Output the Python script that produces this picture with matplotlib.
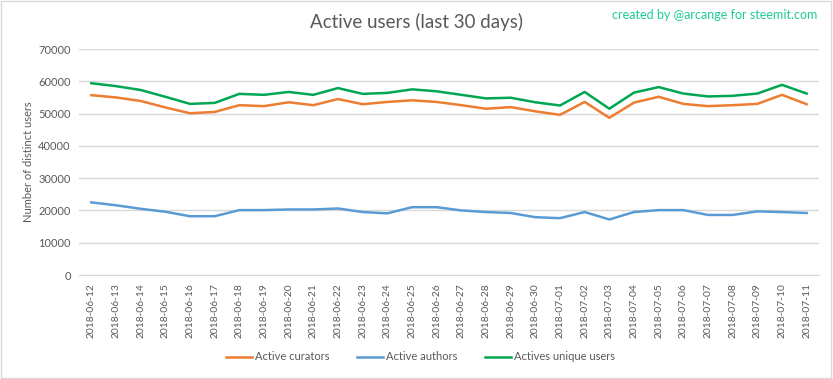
import matplotlib
matplotlib.use('Agg')
import matplotlib.pyplot as plt
from matplotlib.patches import Rectangle

# data
dates = ['2018-06-12', '2018-06-13', '2018-06-14', '2018-06-15', '2018-06-16', '2018-06-17',
         '2018-06-18', '2018-06-19', '2018-06-20', '2018-06-21', '2018-06-22', '2018-06-23',
         '2018-06-24', '2018-06-25', '2018-06-26', '2018-06-27', '2018-06-28', '2018-06-29',
         '2018-06-30', '2018-07-01', '2018-07-02', '2018-07-03', '2018-07-04', '2018-07-05',
         '2018-07-06', '2018-07-07', '2018-07-08', '2018-07-09', '2018-07-10', '2018-07-11']
curators = [55700, 55000, 53900, 51900, 50100, 50500, 52600, 52300, 53500, 52600,
            54500, 52900, 53600, 54100, 53600, 52600, 51500, 52000, 50700, 49600,
            53600, 48700, 53400, 55200, 53000, 52300, 52600, 53000, 55800, 52900]
authors = [22500, 21600, 20500, 19600, 18200, 18200, 20100, 20100, 20300, 20300,
           20600, 19500, 19100, 21000, 21000, 20000, 19500, 19200, 17900, 17600,
           19500, 17200, 19500, 20100, 20100, 18600, 18600, 19700, 19500, 19200]
unique_users = [59400, 58500, 57300, 55200, 53000, 53300, 56100, 55800, 56700, 55800,
                57900, 56100, 56400, 57500, 56900, 55800, 54700, 54900, 53500, 52500,
                56700, 51500, 56500, 58200, 56200, 55300, 55500, 56200, 58900, 56200]
yticks = [0, 10000, 20000, 30000, 40000, 50000, 60000, 70000]

plt.rcParams['font.family'] = ['Lato', 'DejaVu Sans']

fig = plt.figure(figsize=(8.33, 3.79), dpi=100)
ax = fig.add_axes([79/833, 1 - 275/379, 740/833, 226/379])

x = range(len(dates))
ax.plot(x, curators, color='#ED7D31', lw=1.8, label='Active curators')
ax.plot(x, authors, color='#5B9BD5', lw=1.8, label='Active authors')
ax.plot(x, unique_users, color='#00A650', lw=1.8, label='Actives unique users')

ax.set_xlim(-0.5, len(dates) - 0.5)
ax.set_ylim(0, 70000)
ax.set_yticks(yticks)
ax.set_yticklabels([str(v) for v in yticks], fontsize=8, color='#595959')
ax.set_xticks(list(x))
ax.set_xticklabels(dates, rotation=90, fontsize=7.4, color='#595959')
ax.tick_params(length=0, pad=6)
ax.grid(axis='y', color='#d9d9d9', lw=1)
ax.set_axisbelow(True)
for s in ['top', 'right', 'left']:
    ax.spines[s].set_visible(False)
ax.spines['bottom'].set_color('#d9d9d9')

ax.set_ylabel('Number of distinct users', fontsize=8, color='#595959', labelpad=3)

fig.text(0.5, 1 - 22/379, 'Active users (last 30 days)', ha='center', va='center',
         fontsize=13.5, color='#595959')
fig.text(817/833, 1 - 15/379, 'created by @arcange for steemit.com', ha='right', va='center',
         fontsize=9, color='#1FCB9A')

fig.legend(loc='center', bbox_to_anchor=(0.505, 1 - 357/379), ncol=3, frameon=False,
           fontsize=8, labelcolor='#595959', handlelength=2.3, columnspacing=2.5,
           handletextpad=0.3)

fig.patches.append(Rectangle((0.001, 0.003), 0.997, 0.994, transform=fig.transFigure,
                             fill=False, edgecolor='#d9d9d9', lw=1))

fig.savefig('out.png', dpi=100, facecolor='white')
